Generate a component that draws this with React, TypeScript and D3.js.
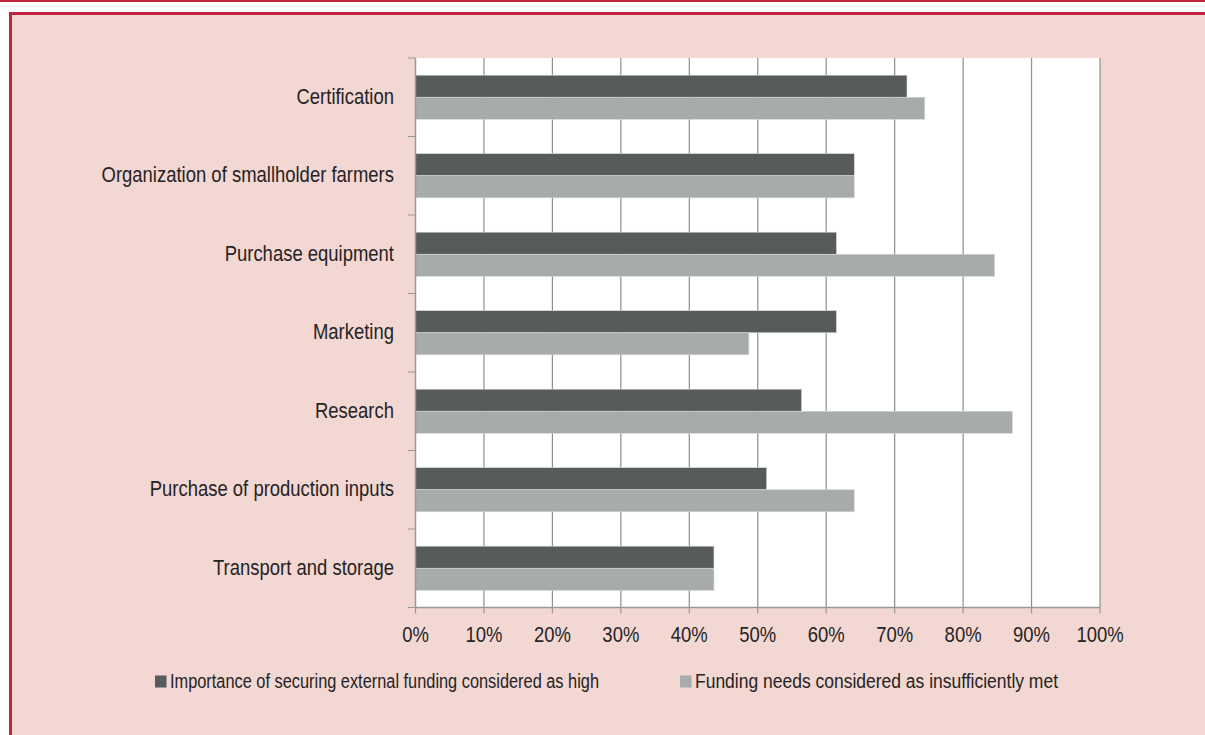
import * as d3 from "d3";
import type { ReactNode } from "react";

// categories top to bottom
const categories = [
  "Certification",
  "Organization of smallholder farmers",
  "Purchase equipment",
  "Marketing",
  "Research",
  "Purchase of production inputs",
  "Transport and storage",
];

const seriesNames = [
  "Importance of securing external funding considered as high",
  "Funding needs considered as insufficiently met",
];

// percentages
const importanceHigh = [71.8, 64.1, 61.5, 61.5, 56.4, 51.3, 43.6];
const needsUnmet = [74.4, 64.1, 84.6, 48.7, 87.2, 64.1, 43.6];

const xTicks = [0, 10, 20, 30, 40, 50, 60, 70, 80, 90, 100];

const W = 1205;
const H = 735;
const font = "'Liberation Sans', Arial, sans-serif";
const colors = ["#575b5c", "#a8abac"];
const red = "#c1223d";
const pink = "#f2d7d2";
const textColor = "#262324";
const squeeze = 0.84; // no condensed face installed, so narrow it by hand

// text drawn with a horizontal squeeze around its anchor point
function Narrow(props: {
  x: number;
  y: number;
  size?: number;
  anchor?: "start" | "middle" | "end";
  central?: boolean;
  children: ReactNode;
}) {
  return (
    <g transform={`translate(${props.x},${props.y}) scale(${squeeze},1)`}>
      <text
        textAnchor={props.anchor ?? "start"}
        dominantBaseline={props.central ? "central" : undefined}
        fontSize={props.size ?? 22}
        fill={textColor}
      >
        {props.children}
      </text>
    </g>
  );
}

export default function App() {
  const x = d3.scaleLinear().domain([0, 100]).range([415.5, 1100]);
  const y = d3.scaleBand<string>().domain(categories).range([58, 607.5]);
  const ys = d3
    .scaleBand<number>()
    .domain([0, 1])
    .range([0, y.bandwidth()])
    .paddingOuter(0.78);
  const values = [importanceHigh, needsUnmet];
  const [top, bottom] = y.range();
  const boundaries = categories.map((c) => y(c)!).concat([bottom]);

  // legend entries: square position and text width on screen
  const legend = [
    { x: 155, len: 429 },
    { x: 680, len: 363 },
  ];

  return (
    <svg
      width={W}
      height={H}
      style={{ position: "absolute", left: 0, top: 0 }}
      fontFamily={font}
    >
      <rect x={0} y={0} width={W} height={H} fill="#fff" />
      <rect x={0} y={0} width={W} height={2} fill={red} />
      <rect x={10.5} y={13.5} width={W} height={H} fill={pink} stroke={red} strokeWidth={3} />

      {/* plot area */}
      <rect x={x(0)} y={top} width={x(100) - x(0)} height={bottom - top} fill="#fff" />
      {xTicks.slice(1).map((t) => (
        <line key={t} x1={x(t)} x2={x(t)} y1={top} y2={bottom} stroke="#8e8e8e" strokeWidth={1.2} />
      ))}

      {categories.map((c, i) => (
        <g key={c} transform={`translate(0,${y(c)})`}>
          {values.map((vals, s) => (
            <rect
              key={s}
              x={x(0)}
              y={ys(s)}
              width={x(vals[i]) - x(0)}
              height={ys.bandwidth()}
              fill={colors[s]}
              stroke="#d4d6d7"
              strokeWidth={0.6}
            />
          ))}
          <Narrow x={394} y={y.bandwidth() / 2 - 1} anchor="end" central>
            {c}
          </Narrow>
        </g>
      ))}

      {/* axes */}
      <line x1={x(0)} x2={x(0)} y1={top} y2={bottom} stroke="#999" strokeWidth={1.5} />
      {boundaries.map((b, i) => (
        <line key={i} x1={408} x2={x(0)} y1={b} y2={b} stroke="#999" strokeWidth={1} />
      ))}
      <line x1={x(0)} x2={x(100)} y1={bottom} y2={bottom} stroke="#999" strokeWidth={1.5} />
      {xTicks.map((t) => (
        <g key={t}>
          <line x1={x(t)} x2={x(t)} y1={bottom} y2={bottom + 6} stroke="#999" strokeWidth={1.2} />
          <Narrow x={x(t)} y={642} anchor="middle">
            {t}%
          </Narrow>
        </g>
      ))}

      {/* legend */}
      {seriesNames.map((n, s) => (
        <g key={n}>
          <rect x={legend[s].x} y={675.5} width={11.5} height={12} fill={colors[s]} />
          <text
            x={legend[s].x + 15}
            y={688}
            fontSize={20}
            fill={textColor}
            textLength={legend[s].len}
            lengthAdjust="spacingAndGlyphs"
          >
            {n}
          </text>
        </g>
      ))}
    </svg>
  );
}
